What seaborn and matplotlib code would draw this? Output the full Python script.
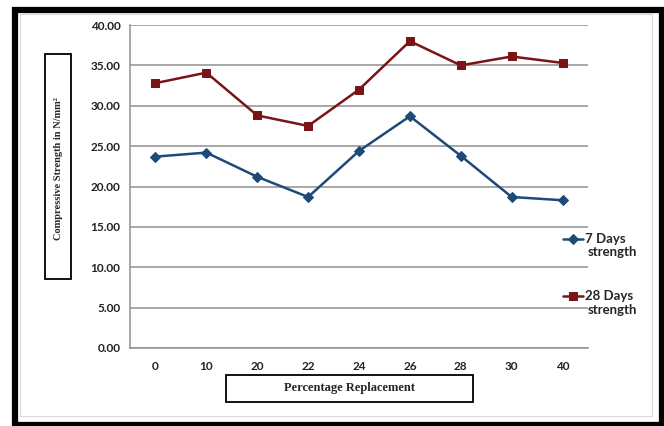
import matplotlib
matplotlib.use("Agg")
import matplotlib.pyplot as plt
from matplotlib.patches import Rectangle
from matplotlib.ticker import FixedLocator, FormatStrFormatter
import pandas as pd
import seaborn as sns

# Compressive strength (N/mm²) by percentage replacement
replacement = ["0", "10", "20", "22", "24", "26", "28", "30", "40"]
strength_7 = [23.7, 24.2, 21.2, 18.7, 24.4, 28.7, 23.8, 18.7, 18.3]
strength_28 = [32.8, 34.1, 28.8, 27.5, 32.0, 38.0, 35.0, 36.1, 35.3]
series_names = ["7 Days strength", "28 Days strength"]
y_ticks = [0, 5, 10, 15, 20, 25, 30, 35, 40]

df = pd.DataFrame({
    "Replacement": replacement * 2,
    "Strength": strength_7 + strength_28,
    "Series": [series_names[0]] * len(replacement) + [series_names[1]] * len(replacement),
})

sns.set_theme(style="white")
plt.rcParams["font.family"] = ["Lato", "DejaVu Sans"]

W, H = 664, 426
fig = plt.figure(figsize=(W / 100, H / 100), dpi=100)
ax = fig.add_axes([130 / W, 78 / H, 458 / W, 323 / H])

colors = {series_names[0]: "#1d4a78", series_names[1]: "#7a1416"}
markers = {series_names[0]: "D", series_names[1]: "s"}

for name in series_names:
    sub = df[df["Series"] == name]
    sns.lineplot(data=sub, x="Replacement", y="Strength", ax=ax, sort=False,
                 color=colors[name], marker=markers[name],
                 markersize=5 if markers[name] == "D" else 6,
                 markeredgecolor=colors[name], linewidth=1.8,
                 label=name.split(" strength")[0], legend=False)

ax.set_xlim(-0.5, len(replacement) - 0.5)
ax.set_ylim(0, 40)
ax.yaxis.set_major_locator(FixedLocator(y_ticks))
ax.yaxis.set_major_formatter(FormatStrFormatter("%.2f"))
ax.grid(axis="y", color="#8f8f8f", linewidth=1.1)
ax.set_axisbelow(True)
ax.set_xlabel("")
ax.set_ylabel("")

for side in ["top", "right"]:
    ax.spines[side].set_visible(False)
for side in ["left", "bottom"]:
    ax.spines[side].set_color("#8f8f8f")
    ax.spines[side].set_linewidth(1.1)

ax.tick_params(axis="x", which="major", length=0, pad=9)
ax.set_xticks(range(len(replacement)), minor=False)
ax.set_xticks([i + 0.5 for i in range(-1, len(replacement))], minor=True)
ax.tick_params(axis="x", which="minor", length=4, color="#8f8f8f", width=1, direction="out")
ax.tick_params(axis="y", length=4, color="#8f8f8f", width=1, pad=3)
for lab in ax.get_xticklabels() + ax.get_yticklabels():
    lab.set_fontweight("bold")
    lab.set_fontsize(8.5)
    lab.set_color("#222222")

# Legend: handle beside the first line, "strength" wrapped underneath
legend_font = {"family": ["Lato", "DejaVu Sans"], "weight": "bold", "size": 9.5}
handles, labels = ax.get_legend_handles_labels()
fig.legend(handles, labels, loc="upper left", bbox_to_anchor=(558 / W, 1 - 228 / H),
           frameon=False, handlelength=1.5, handletextpad=0.15, labelspacing=3.4,
           borderaxespad=0, prop=legend_font)
for y in (252, 310):
    fig.text(588 / W, 1 - y / H, "strength", ha="left", va="center", **legend_font)

# Axis-title boxes
fig.patches.append(Rectangle((45 / W, 1 - 279 / H), 26 / W, 225 / H, transform=fig.transFigure,
                             fill=False, edgecolor="black", linewidth=1.3))
fig.text(59 / W, 1 - 169 / H, "Compressive Strength in N/mm²", rotation=90, ha="center", va="center",
         family=["Liberation Serif", "DejaVu Serif"], fontweight="bold", fontsize=7.5)
fig.patches.append(Rectangle((226 / W, 1 - 402 / H), 247 / W, 27 / H, transform=fig.transFigure,
                             fill=False, edgecolor="black", linewidth=1.3))
fig.text(350 / W, 1 - 388.5 / H, "Percentage Replacement", ha="center", va="center",
         family=["Liberation Serif", "DejaVu Serif"], fontweight="bold", fontsize=9)

# Outer frame
fig.patches.append(Rectangle((20 / W, 1 - 416 / H), 632 / W, 402 / H, transform=fig.transFigure,
                             fill=False, edgecolor="#d8d8d8", linewidth=0.8))
fig.patches.append(Rectangle((14.5 / W, 1 - 424.5 / H), 647 / W, 414.5 / H, transform=fig.transFigure,
                             fill=False, edgecolor="black", linewidth=4.5))

fig.savefig("out.png", dpi=100, facecolor="white")
